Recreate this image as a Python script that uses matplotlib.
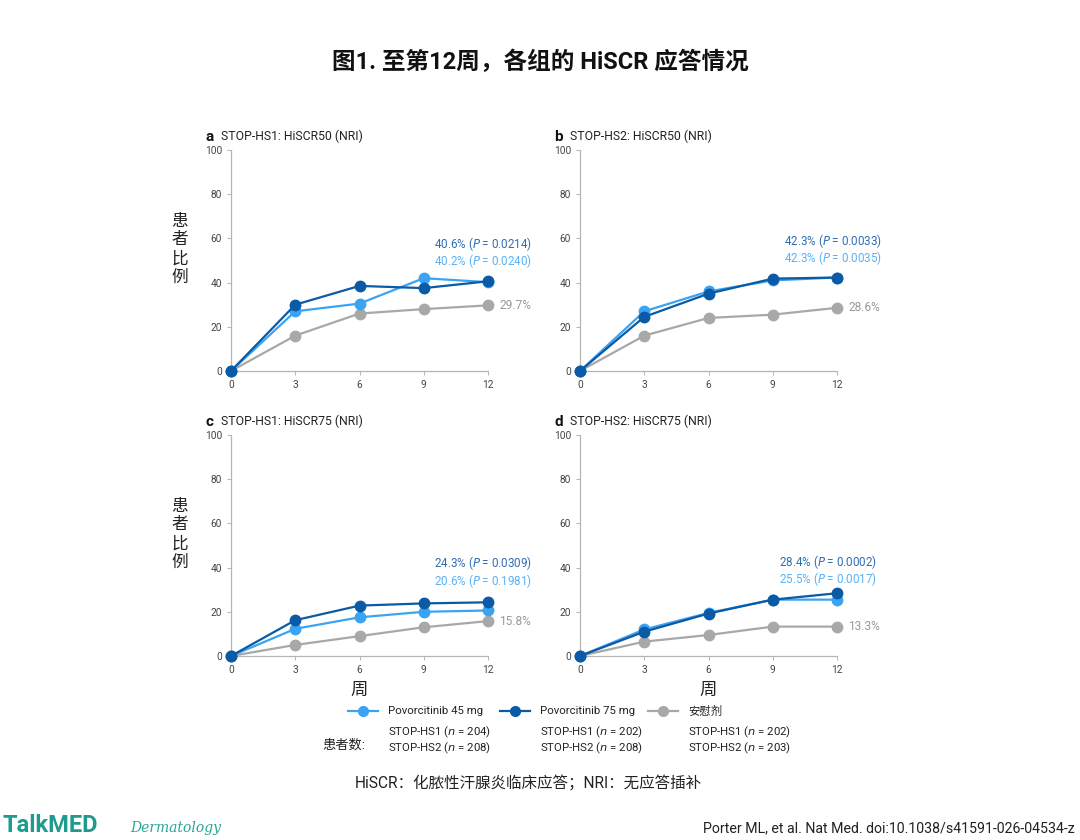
import matplotlib
matplotlib.use("Agg")
import matplotlib.pyplot as plt
from matplotlib.lines import Line2D

plt.rcParams['font.family'] = ['Roboto', 'Noto Sans CJK SC', 'DejaVu Sans']
plt.rcParams['mathtext.fontset'] = 'dejavusans'

weeks = [0, 3, 6, 9, 12]

# 各面板数据：45 mg、75 mg、安慰剂
a_45 = [0, 27, 30.5, 42, 40.2]
a_75 = [0, 30, 38.5, 37.5, 40.6]
a_pbo = [0, 16, 26, 28, 29.7]

b_45 = [0, 27, 36, 41, 42.3]
b_75 = [0, 24.5, 35, 41.8, 42.3]
b_pbo = [0, 16, 24, 25.5, 28.6]

c_45 = [0, 12.3, 17.5, 20, 20.6]
c_75 = [0, 16.2, 22.8, 23.8, 24.3]
c_pbo = [0, 5, 9, 13, 15.8]

d_45 = [0, 12, 19.5, 25.5, 25.5]
d_75 = [0, 11, 19.2, 25.5, 28.4]
d_pbo = [0, 6.5, 9.5, 13.3, 13.3]

letters = ['a', 'b', 'c', 'd']
titles = ['STOP-HS1: HiSCR50 (NRI)', 'STOP-HS2: HiSCR50 (NRI)',
          'STOP-HS1: HiSCR75 (NRI)', 'STOP-HS2: HiSCR75 (NRI)']
p_75 = ['0.0214', '0.0033', '0.0309', '0.0002']
p_45 = ['0.0240', '0.0035', '0.1981', '0.0017']
label_pos = [(9.5, 57.5, 49.8), (9.52, 58.8, 51.1), (9.5, 42.1, 33.9), (9.3, 42.5, 34.8)]

C45 = '#3aa3f2'
C75 = '#0b5aa5'
CPBO = '#a8a8a8'
T75 = '#2f6db3'
T45 = '#5ab2f5'

fig = plt.figure(figsize=(10.8, 8.4), dpi=100)

rects = [(231, 150), (580, 150), (231, 435), (580, 435)]
data = [(a_45, a_75, a_pbo), (b_45, b_75, b_pbo), (c_45, c_75, c_pbo), (d_45, d_75, d_pbo)]

for i, (x0, ytop) in enumerate(rects):
    ax = fig.add_axes([x0 / 1080, 1 - (ytop + 221) / 840, 257 / 1080, 221 / 840])
    s45, s75, spbo = data[i]
    kw = dict(marker='o', markersize=7.5, linewidth=1.6, clip_on=False)
    ax.plot(weeks, spbo, color=CPBO, zorder=3, **kw)
    ax.plot(weeks, s45, color=C45, zorder=4, **kw)
    ax.plot(weeks, s75, color=C75, zorder=5, **kw)
    ax.set_xlim(0, 12)
    ax.set_ylim(0, 100)
    ax.set_xticks(weeks)
    ax.set_yticks([0, 20, 40, 60, 80, 100])
    for sp in ['top', 'right']:
        ax.spines[sp].set_visible(False)
    for sp in ['left', 'bottom']:
        ax.spines[sp].set_color('#b5b5b5')
        ax.spines[sp].set_linewidth(0.9)
    ax.tick_params(labelsize=7.3, colors='#444444', length=3, width=0.7)
    ax.tick_params(axis='both', color='#b5b5b5')

    ax.text(-0.1, 1.06, letters[i], transform=ax.transAxes, fontsize=11,
            fontweight='bold', ha='left', va='center', color='#111111')
    ax.text(-0.04, 1.06, titles[i], transform=ax.transAxes, fontsize=8.8,
            ha='left', va='center', color='#222222')

    lx, ly75, ly45 = label_pos[i]
    ax.text(lx, ly75, '%.1f%% ($\\it{P}$ = %s)' % (s75[-1], p_75[i]),
            color=T75, fontsize=8.4, ha='left', va='center')
    ax.text(lx, ly45, '%.1f%% ($\\it{P}$ = %s)' % (s45[-1], p_45[i]),
            color=T45, fontsize=8.4, ha='left', va='center')
    ax.annotate('%.1f%%' % spbo[-1], xy=(12, spbo[-1]), xytext=(8, 0),
                textcoords='offset points', color='#999999', fontsize=8.6,
                ha='left', va='center')

    if i % 2 == 0:
        ax.text(-0.2, 0.55, '患\n者\n比\n例', transform=ax.transAxes, fontsize=12,
                ha='center', va='center', linespacing=1.3, color='#222222')
    if i >= 2:
        ax.text(0.5, -0.155, '周', transform=ax.transAxes, fontsize=12.5,
                ha='center', va='center', color='#222222')

fig.text(0.5, 1 - 62 / 840, '图1. 至第12周，各组的 HiSCR 应答情况', fontsize=17,
         fontweight='bold', ha='center', va='center', color='#111111')

# 图例
names = ['Povorcitinib 45 mg', 'Povorcitinib 75 mg', '安慰剂']
colors = [C45, C75, CPBO]
n_hs1 = [204, 202, 202]
n_hs2 = [208, 208, 203]
leg_x = [348, 500, 648]
lax = fig.add_axes([0, 0, 1, 1])
lax.set_xlim(0, 1080)
lax.set_ylim(840, 0)
lax.axis('off')
for k in range(3):
    x = leg_x[k]
    lax.add_line(Line2D([x, x + 30], [711, 711], color=colors[k], linewidth=1.6))
    lax.add_line(Line2D([x + 15], [711], color=colors[k], marker='o', markersize=7))
    lax.text(x + 40, 711, names[k], fontsize=8.2, ha='left', va='center', color='#222222')
    lax.text(x + 40, 732, 'STOP-HS1 ($\\it{n}$ = %d)' % n_hs1[k], fontsize=8.2,
             ha='left', va='center', color='#222222')
    lax.text(x + 40, 748, 'STOP-HS2 ($\\it{n}$ = %d)' % n_hs2[k], fontsize=8.2,
             ha='left', va='center', color='#222222')
lax.text(322, 745, '患者数:', fontsize=9.5, ha='left', va='center', color='#222222')

fig.text(355 / 1080, 1 - 783 / 840, 'HiSCR：化脓性汗腺炎临床应答；NRI：无应答插补',
         fontsize=11.2, ha='left', va='center', color='#222222')

fig.text(0.002, 1 - 826 / 840, 'TalkMED', fontsize=17, fontweight='bold',
         color='#1f9a8e', ha='left', va='center',
         family=['Liberation Sans Narrow', 'Roboto', 'DejaVu Sans'])
fig.text(130 / 1080, 1 - 828 / 840, 'Dermatology', fontsize=10, style='italic',
         color='#2aa597', ha='left', va='center', family=['DejaVu Serif'])
fig.text(1075 / 1080, 1 - 828 / 840,
         'Porter ML, et al. Nat Med. doi:10.1038/s41591-026-04534-z', fontsize=10.2,
         color='#222222', ha='right', va='center',
         family=['Liberation Sans Narrow', 'Roboto', 'DejaVu Sans'])

fig.savefig('out.png', dpi=100, facecolor='white')
